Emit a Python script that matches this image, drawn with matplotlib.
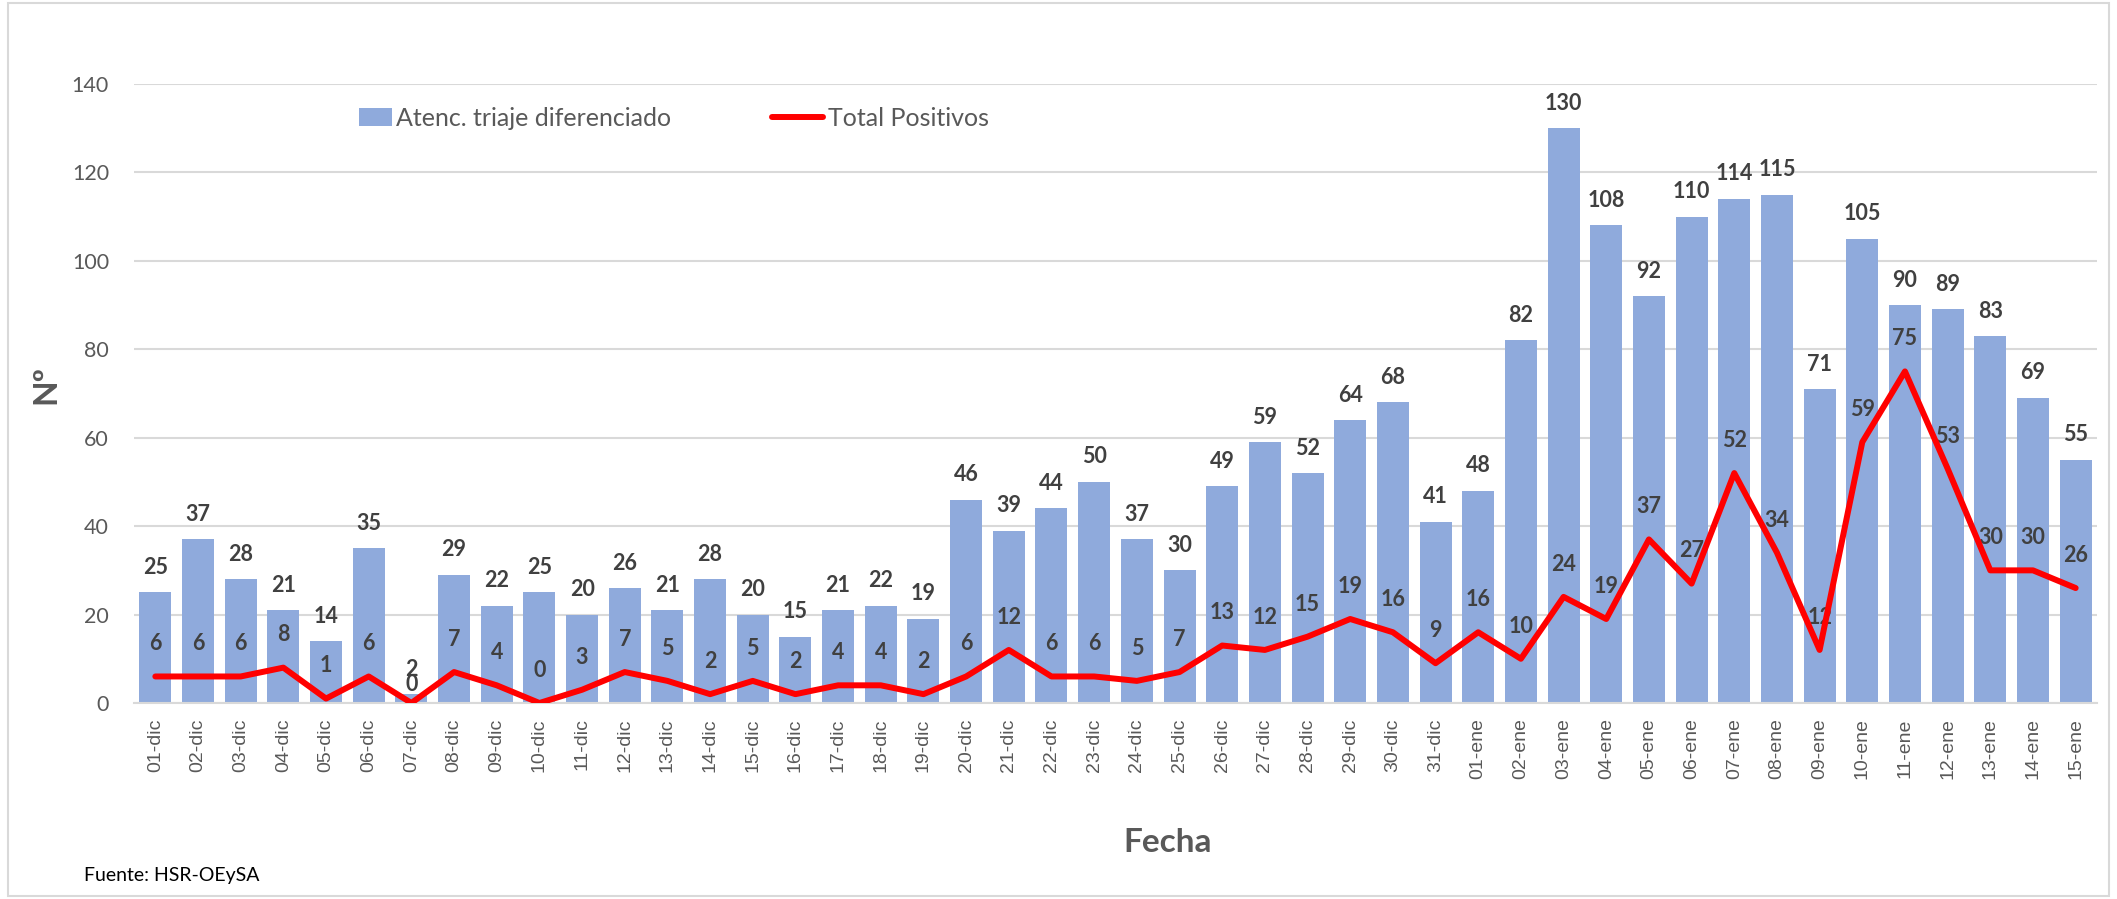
import matplotlib
matplotlib.use("Agg")
import matplotlib.pyplot as plt
from matplotlib.patches import Rectangle
import numpy as np

plt.rcParams['font.family'] = ['Lato', 'DejaVu Sans']

# datos
fechas = ['01-dic', '02-dic', '03-dic', '04-dic', '05-dic', '06-dic', '07-dic',
          '08-dic', '09-dic', '10-dic', '11-dic', '12-dic', '13-dic', '14-dic',
          '15-dic', '16-dic', '17-dic', '18-dic', '19-dic', '20-dic', '21-dic',
          '22-dic', '23-dic', '24-dic', '25-dic', '26-dic', '27-dic', '28-dic',
          '29-dic', '30-dic', '31-dic', '01-ene', '02-ene', '03-ene', '04-ene',
          '05-ene', '06-ene', '07-ene', '08-ene', '09-ene', '10-ene', '11-ene',
          '12-ene', '13-ene', '14-ene', '15-ene']
atenciones = [25, 37, 28, 21, 14, 35, 2, 29, 22, 25, 20, 26, 21, 28, 20, 15,
              21, 22, 19, 46, 39, 44, 50, 37, 30, 49, 59, 52, 64, 68, 41,
              48, 82, 130, 108, 92, 110, 114, 115, 71, 105, 90, 89, 83, 69, 55]
positivos = [6, 6, 6, 8, 1, 6, 0, 7, 4, 0, 3, 7, 5, 2, 5, 2, 4, 4, 2, 6, 12,
             6, 6, 5, 7, 13, 12, 15, 19, 16, 9,
             16, 10, 24, 19, 37, 27, 52, 34, 12, 59, 75, 53, 30, 30, 26]

W, H = 2117, 899
fig = plt.figure(figsize=(W / 100, H / 100), dpi=100)
ax = fig.add_axes([134 / W, 1 - 703 / H, (2097 - 134) / W, (703 - 84) / H])

x = np.arange(len(fechas))
barras = ax.bar(x, atenciones, width=0.75, color='#8FAADC',
                label='Atenc. triaje diferenciado', zorder=2)
linea, = ax.plot(x, positivos, color='#FF0000', lw=4.3,
                 solid_joinstyle='round', solid_capstyle='round',
                 label='Total Positivos', zorder=4)

# etiquetas de datos
for i, v in enumerate(atenciones):
    ax.annotate(str(v), (i, v), xytext=(0, 18), textcoords='offset points',
                ha='center', va='center', fontsize=15.5, fontweight='bold',
                color='#404040', zorder=3)
for i, v in enumerate(positivos):
    dy = 13.5 if fechas[i] == '07-dic' else 23.5  # etiqueta movida a mano
    ax.annotate(str(v), (i, v), xytext=(0, dy), textcoords='offset points',
                ha='center', va='center', fontsize=15.5, fontweight='bold',
                color='#404040', zorder=3)

ax.set_xlim(-0.5, len(fechas) - 0.5)
ax.set_ylim(0, 140)
ax.set_yticks(range(0, 141, 20))
ax.set_xticks(x)
ax.set_xticklabels(fechas, rotation=90, family='Liberation Sans',
                   fontsize=14, color='#595959')
ax.tick_params(axis='x', length=0, pad=11)
ax.tick_params(axis='y', length=0, pad=18, labelsize=15.5, labelcolor='#595959')
ax.grid(axis='y', color='#D9D9D9', lw=1.5, zorder=0)
ax.set_axisbelow(True)
for s in ['top', 'right', 'left']:
    ax.spines[s].set_visible(False)
ax.spines['bottom'].set_color('#D9D9D9')
ax.spines['bottom'].set_linewidth(1.5)

fig.text(46 / W, 1 - 384 / H, 'Nº', rotation=90, ha='center', va='center',
         fontsize=24, fontweight='bold', color='#595959')
fig.text(1168 / W, 1 - 842 / H, 'Fecha', ha='center', va='center',
         fontsize=24, fontweight='bold', color='#595959')
fig.text(84 / W, 1 - 876 / H, 'Fuente: HSR-OEySA', ha='left', va='center',
         fontsize=14, color='black')

# dos leyendas separadas, cada una con su largo de simbolo
fig.legend(handles=[barras], loc='center left',
           bbox_to_anchor=(359 / W, 1 - 118 / H), frameon=False,
           fontsize=18, labelcolor='#595959', handlelength=1.3,
           handletextpad=0.2, borderaxespad=0, borderpad=0)
fig.legend(handles=[linea], loc='center left',
           bbox_to_anchor=(772 / W, 1 - 118 / H), frameon=False,
           fontsize=18, labelcolor='#595959', handlelength=2.05,
           handletextpad=0.2, borderaxespad=0, borderpad=0)

fig.patches.append(Rectangle((8 / W, 3 / H), (W - 16) / W, (H - 6) / H,
                             transform=fig.transFigure, fill=False,
                             ec='#D9D9D9', lw=1.5))

fig.savefig('out.png', dpi=100)
